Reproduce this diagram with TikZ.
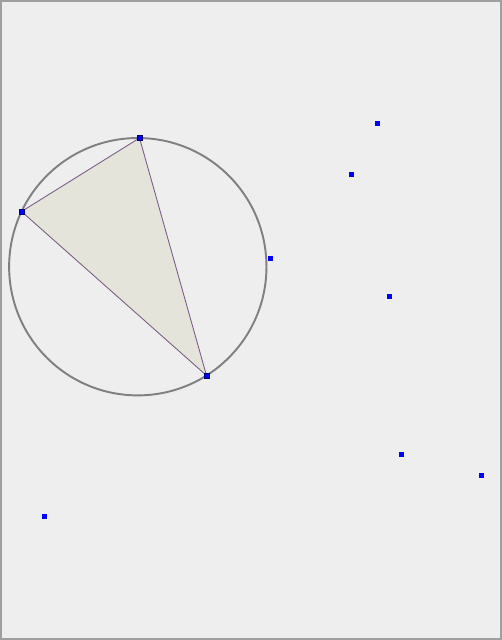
\documentclass[tikz,border=0pt]{standalone}
\usepackage{xcolor}
\usepackage{tikz}
\usetikzlibrary{backgrounds}
\definecolor{panelgray}{HTML}{EEEEEE}
\definecolor{trifill}{HTML}{E4E4DA}
\definecolor{triedge}{HTML}{7B5E88}

\begin{document}
\begin{tikzpicture}[
  x=0.02cm, y=-0.02cm,
  site/.style={rectangle, fill=blue, inner sep=0pt, minimum size=2.8pt},
  corner/.style={site, draw=blue!45!black, line width=0.3pt},
]
  \useasboundingbox (0,0) rectangle (502,640);

  % triangle corners
  \node[corner] (ca) at (139.5,138) {};
  \node[corner] (cb) at (21.5,211.5) {};
  \node[corner] (cc) at (206.5,375.5) {};

  % free sites
  \foreach \x/\y/\nm in {377.5/123.5/s1, 351.5/174.5/s2, 270.5/258.5/s3, 389.5/296.5/s4,
                         401.5/454.5/s5, 481.5/475.5/s6, 44.5/516.5/s7} {
    \node[site] (\nm) at (\x,\y) {};
  }

  \begin{scope}[on background layer]
    % panel
    \draw[gray!75, line width=0.8pt, fill=panelgray] (1,1) rectangle (501,639);
    % triangle
    \fill[trifill] (ca.center) -- (cb.center) -- (cc.center) -- cycle;
    \draw[triedge, line width=0.5pt] (ca.center) -- (cb.center) -- (cc.center) -- cycle;
    % circumcircle
    \draw[gray, line width=1.1pt] (137.8,266.7) circle [radius=2.574cm];
  \end{scope}
\end{tikzpicture}
\end{document}
